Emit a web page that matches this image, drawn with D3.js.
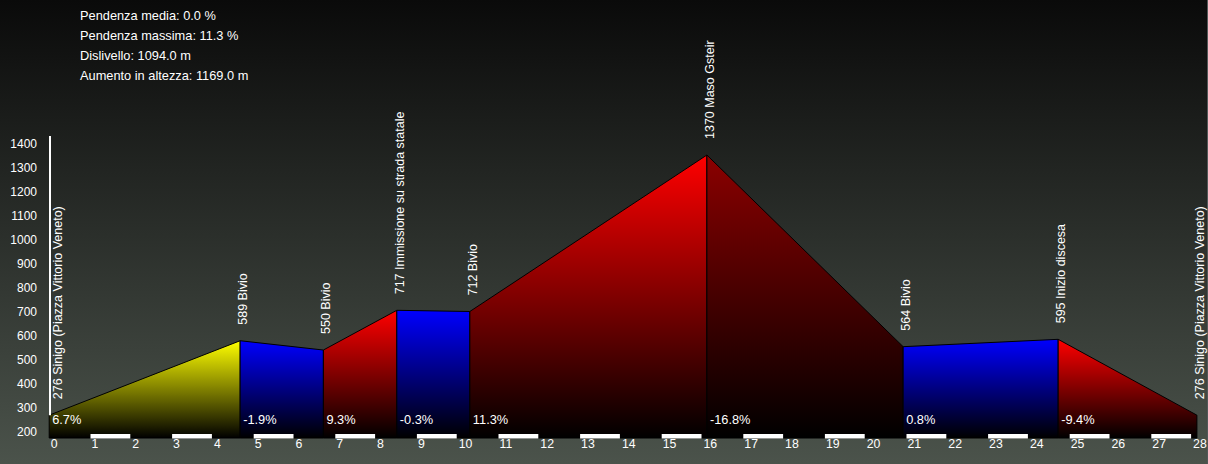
<!DOCTYPE html>
<html>
<head>
<meta charset="utf-8">
<script src="https://cdn.jsdelivr.net/npm/d3@7"></script>
<style>
  html, body { margin: 0; padding: 0; background: #000; }
  svg { display: block; }
  text { font-family: "Liberation Sans", Arial, sans-serif; fill: #fff; }
</style>
</head>
<body>
<svg id="chart" width="1208" height="464"></svg>
<script>
// ---- data ----
const distances = [0, 4.68, 6.72, 8.52, 10.31, 16.12, 20.93, 24.73, 28.13];          // km
const elevations = [276, 589, 550, 717, 712, 1370, 564, 595, 276];                  // m
const pointLabels = [
  "276 Sinigo (Piazza Vittorio Veneto)",
  "589 Bivio",
  "550 Bivio",
  "717 Immissione su strada statale",
  "712 Bivio",
  "1370 Maso Gsteir",
  "564 Bivio",
  "595 Inizio discesa",
  "276 Sinigo (Piazza Vittorio Veneto)"
];
const gradeLabels = ["6.7%", "-1.9%", "9.3%", "-0.3%", "11.3%", "-16.8%", "0.8%", "-9.4%"];
const segmentColors = ["#ffff00", "#0000ff", "#ff0000", "#0000ff", "#ff0000", "#8b0000", "#0000ff", "#ff0000"];
const xTicks = d3.range(0, 29);
const yTicks = [200, 300, 400, 500, 600, 700, 800, 900, 1000, 1100, 1200, 1300, 1400];
const infoLines = [
  "Pendenza media: 0.0 %",
  "Pendenza massima: 11.3 %",
  "Dislivello: 1094.0 m",
  "Aumento in altezza: 1169.0 m"
];

// ---- setup ----
const W = 1208, H = 464;
const svg = d3.select("#chart");
const defs = svg.append("defs");

const bg = defs.append("linearGradient").attr("id", "bg")
  .attr("x1", 0).attr("y1", 0).attr("x2", 0).attr("y2", 1);
bg.append("stop").attr("offset", 0).attr("stop-color", "#0a0a0a");
bg.append("stop").attr("offset", 1).attr("stop-color", "#4b534b");
svg.append("rect").attr("width", W).attr("height", H).attr("fill", "url(#bg)");
svg.append("rect").attr("x", W - 1).attr("width", 1).attr("height", H).attr("fill", "#525858");

const x = d3.scaleLinear().domain([0, 28]).range([49.2, 1191.6]);
const y = d3.scaleLinear().domain([180, 1450]).range([438, 136]);
const yLab = d3.scaleLinear().domain([200, 1400]).range([432, 144]);
const baseY = y(180);

// segment gradients
segmentColors.forEach((c, i) => {
  const g = defs.append("linearGradient").attr("id", "seg" + i)
    .attr("x1", 0).attr("y1", 0).attr("x2", 0).attr("y2", 1);
  g.append("stop").attr("offset", 0).attr("stop-color", c);
  g.append("stop").attr("offset", 1).attr("stop-color", "#000");
});

const segs = d3.range(distances.length - 1).map(i => ({
  i, d0: distances[i], d1: distances[i + 1], e0: elevations[i], e1: elevations[i + 1]
}));

// profile segments
svg.append("g").selectAll("path").data(segs).join("path")
  .attr("d", s => {
    const p = d3.path();
    p.moveTo(x(s.d0), baseY);
    p.lineTo(x(s.d0), y(s.e0));
    p.lineTo(x(s.d1), y(s.e1));
    p.lineTo(x(s.d1), baseY);
    p.closePath();
    return p.toString();
  })
  .attr("fill", s => "url(#seg" + s.i + ")")
  .attr("stroke", "#000")
  .attr("stroke-width", 1)
  .attr("stroke-linejoin", "round");

// y axis line
svg.append("line")
  .attr("x1", 50).attr("x2", 50)
  .attr("y1", y(1450)).attr("y2", y(elevations[0]))
  .attr("stroke", "#fff").attr("stroke-width", 2);

// y axis labels
const yAxis = d3.axisLeft(yLab).tickValues(yTicks).tickSize(0).tickPadding(0)
  .tickFormat(d3.format("d"));
const gy = svg.append("g").attr("transform", "translate(37,0)").call(yAxis);
gy.select(".domain").remove();
gy.selectAll("text").attr("fill", "#fff").style("font-size", "12px")
  .style("font-family", "'Liberation Sans', Arial, sans-serif");

// x axis white bars
svg.append("g").selectAll("rect")
  .data(xTicks.filter(t => t % 2 === 1 && t < 28)).join("rect")
  .attr("x", t => x(t) + 0.5)
  .attr("width", t => x(t + 1) - x(t) - 1)
  .attr("y", 434).attr("height", 4.5)
  .attr("fill", "#fff");

// x axis labels
svg.append("g").selectAll("text").data(xTicks).join("text")
  .attr("x", t => x(t) + 1.5)
  .attr("y", 448)
  .style("font-size", "12.3px")
  .text(t => t);

// grade labels
svg.append("g").selectAll("text").data(segs).join("text")
  .attr("x", s => x(s.d0) + 3)
  .attr("y", 424)
  .style("font-size", "12.8px")
  .text(s => gradeLabels[s.i]);

// point labels (rotated)
svg.append("g").selectAll("text").data(distances).join("text")
  .attr("transform", (d, i) => {
    const px = Math.max(x(d) + 7, 62);
    return `translate(${px},${y(elevations[i]) - 16}) rotate(-90)`;
  })
  .style("font-size", "12.5px")
  .text((d, i) => pointLabels[i]);

// info text
svg.append("g").selectAll("text").data(infoLines).join("text")
  .attr("x", 80)
  .attr("y", (d, i) => 19.5 + i * 20)
  .style("font-size", "12.8px")
  .text(d => d);
</script>
</body>
</html>
